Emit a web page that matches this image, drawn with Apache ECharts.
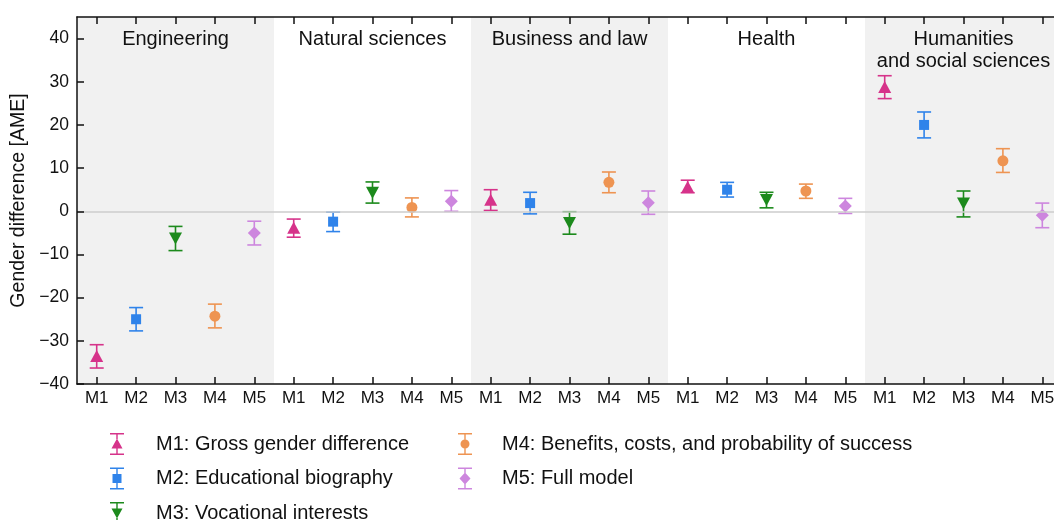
<!DOCTYPE html>
<html>
<head>
<meta charset="utf-8">
<script src="https://cdn.jsdelivr.net/npm/echarts@6/dist/echarts.min.js"></script>
<style>
  html, body { margin: 0; padding: 0; background: #fff; }
  #chart { width: 1054px; height: 520px; }
</style>
</head>
<body>
<div id="chart"></div>
<script>
// fields (groups along the x axis) and model labels
const fields = ["Engineering", "Natural sciences", "Business and law", "Health", "Humanities\nand social sciences"];
const models = ["M1", "M2", "M3", "M4", "M5"];
const modelNames = [
  "M1: Gross gender difference",
  "M2: Educational biography",
  "M3: Vocational interests",
  "M4: Benefits, costs, and probability of success",
  "M5: Full model",
];
// point estimates per model, one per field
const m1 = [-33.5, -3.8, 2.7, 5.7, 28.8];
const m2 = [-25.0, -2.4, 1.9, 5.0, 20.0];
const m3 = [-6.3, 4.3, -2.7, 2.6, 1.8];
const m4 = [-24.3, 0.9, 6.7, 4.7, 11.7];
const m5 = [-5.0, 2.3, 2.0, 1.2, -0.9];
// confidence interval lower bounds
const m1Low = [-36.3, -6.0, 0.2, 4.3, 26.1];
const m2Low = [-27.7, -4.7, -0.6, 3.3, 17.0];
const m3Low = [-9.1, 1.9, -5.3, 0.8, -1.3];
const m4Low = [-27.0, -1.3, 4.3, 3.0, 9.0];
const m5Low = [-7.8, 0.0, -0.7, -0.5, -3.8];
// confidence interval upper bounds
const m1High = [-30.9, -1.8, 5.0, 7.2, 31.4];
const m2High = [-22.3, -0.2, 4.4, 6.7, 23.0];
const m3High = [-3.5, 6.8, -0.1, 4.4, 4.7];
const m4High = [-21.5, 3.1, 9.1, 6.3, 14.5];
const m5High = [-2.3, 4.8, 4.7, 3.0, 1.9];
const yTicks = [-40, -30, -20, -10, 0, 10, 20, 30, 40];

const means = [m1, m2, m3, m4, m5];
const lows = [m1Low, m2Low, m3Low, m4Low, m5Low];
const highs = [m1High, m2High, m3High, m4High, m5High];
const colors = ["#d6338a", "#2f83ea", "#1c8a1c", "#ee9452", "#cd86de"];
const symbols = ["triangle", "rect", "triangle", "circle", "diamond"];
const symbolSizes = [[13, 12], [10, 10], [13, 12], [11, 11], [13, 13]];
const symbolRot = [0, 0, 180, 0, 0];

// legend icons: error bar + marker, 14x22 box
const bar = "M0,0L14,0L14,1.6L0,1.6ZM0,20.4L14,20.4L14,22L0,22Z";
const legendIcons = [
  "path://" + bar + "M6.3,1.6L7.7,1.6L7.7,6L6.3,6ZM6.3,15L7.7,15L7.7,20.4L6.3,20.4ZM7,5.5L12.5,15.5L1.5,15.5Z",
  "path://" + bar + "M6.3,1.6L7.7,1.6L7.7,6.5L6.3,6.5ZM6.3,15.5L7.7,15.5L7.7,20.4L6.3,20.4ZM2.5,6.5L11.5,6.5L11.5,15.5L2.5,15.5Z",
  "path://" + bar + "M6.3,1.6L7.7,1.6L7.7,7L6.3,7ZM6.3,16L7.7,16L7.7,20.4L6.3,20.4ZM1.5,6.5L12.5,6.5L7,16.5Z",
  "path://" + bar + "M6.3,1.6L7.7,1.6L7.7,7L6.3,7ZM6.3,15L7.7,15L7.7,20.4L6.3,20.4ZM2.5,11A4.5,4.5 0 1,1 11.5,11A4.5,4.5 0 1,1 2.5,11Z",
  "path://" + bar + "M6.3,1.6L7.7,1.6L7.7,6L6.3,6ZM6.3,16L7.7,16L7.7,20.4L6.3,20.4ZM7,5L12.5,11L7,17L1.5,11Z",
];

const catLabels = [];
fields.forEach(() => models.forEach((m) => catLabels.push(m)));

const bands = fields.map((f, i) => [
  {
    name: f,
    xAxis: i * 5 - 0.5,
    itemStyle: { color: i % 2 === 0 ? "#f1f1f1" : "rgba(255,255,255,0)" },
  },
  { xAxis: i * 5 + 4.5 },
]);

const series = [
  {
    type: "scatter",
    xAxisIndex: 1,
    data: [],
    z: -1,
    silent: true,
    markArea: {
      silent: true,
      label: {
        show: true,
        position: "insideTop",
        distance: 11,
        color: "#111",
        fontSize: 20,
        lineHeight: 22,
        fontFamily: "Liberation Sans, Arial, sans-serif",
      },
      data: bands,
    },
  },
  {
    type: "scatter",
    xAxisIndex: 1,
    data: [],
    z: 0,
    silent: true,
    markLine: {
      silent: true,
      symbol: "none",
      label: { show: false },
      lineStyle: { color: "#cdcdcd", width: 1.5, type: "solid" },
      data: [{ yAxis: 0 }],
    },
  },
];

means.forEach((vals, k) => {
  const pts = vals.map((v, i) => [i * 5 + k, v]);
  const bars = vals.map((v, i) => [i * 5 + k, lows[k][i], highs[k][i]]);
  series.push({
    name: modelNames[k],
    type: "custom",
    xAxisIndex: 1,
    z: 3,
    data: bars,
    renderItem: function (params, api) {
      const x = api.value(0);
      const lo = api.coord([x, api.value(1)]);
      const hi = api.coord([x, api.value(2)]);
      const w = 7;
      const style = { stroke: colors[k], lineWidth: 1.6 };
      return {
        type: "group",
        children: [
          { type: "line", shape: { x1: lo[0], y1: lo[1], x2: hi[0], y2: hi[1] }, style: style },
          { type: "line", shape: { x1: lo[0] - w, y1: lo[1], x2: lo[0] + w, y2: lo[1] }, style: style },
          { type: "line", shape: { x1: hi[0] - w, y1: hi[1], x2: hi[0] + w, y2: hi[1] }, style: style },
        ],
      };
    },
  });
  series.push({
    name: modelNames[k],
    type: "scatter",
    xAxisIndex: 1,
    z: 4,
    symbol: symbols[k],
    symbolSize: symbolSizes[k],
    symbolRotate: symbolRot[k],
    itemStyle: { color: colors[k], opacity: 1 },
    data: pts,
  });
});

const chart = echarts.init(document.getElementById("chart"));
const option = {
  animation: false,
  textStyle: { fontFamily: "Liberation Sans, Arial, sans-serif" },
  color: colors,
  grid: { left: 77, top: 17, right: -8, bottom: 136, containLabel: false, outerBoundsMode: "none" },
  legend: [
    {
      orient: "vertical",
      left: 105,
      top: 428,
      height: 120,
      itemWidth: 14,
      itemHeight: 22,
      itemGap: 12.5,
      selectedMode: false,
      textStyle: { fontSize: 20, color: "#111", padding: [0, 0, 0, 27] },
      data: [0, 1, 2].map((k) => ({ name: modelNames[k], icon: legendIcons[k], itemStyle: { color: colors[k] } })),
    },
    {
      orient: "vertical",
      left: 453,
      top: 428,
      height: 120,
      itemWidth: 14,
      itemHeight: 22,
      itemGap: 12.5,
      selectedMode: false,
      textStyle: { fontSize: 20, color: "#111", padding: [0, 0, 0, 25] },
      data: [3, 4].map((k) => ({ name: modelNames[k], icon: legendIcons[k], itemStyle: { color: colors[k] } })),
    },
  ],
  xAxis: [
    {
      type: "category",
      position: "bottom",
      z: 10,
      data: catLabels,
      axisLine: { show: true, onZero: false, lineStyle: { color: "#111", width: 1.5 } },
      axisTick: { show: true, inside: true, alignWithLabel: true, length: 7, lineStyle: { color: "#111", width: 1.5 } },
      axisLabel: { fontSize: 17, color: "#111", margin: 6, interval: 0 },
      splitLine: { show: false },
    },
    {
      type: "value",
      min: -0.5,
      max: 24.5,
      show: false,
    },
    {
      type: "category",
      position: "top",
      z: 10,
      data: catLabels,
      axisLine: { show: true, onZero: false, lineStyle: { color: "#111", width: 1.5 } },
      axisTick: { show: true, inside: true, alignWithLabel: true, length: 7, lineStyle: { color: "#111", width: 1.5 } },
      axisLabel: { show: false },
      splitLine: { show: false },
    },
  ],
  yAxis: {
    type: "value",
    z: 10,
    min: yTicks[0],
    max: 45,
    interval: 10,
    name: "Gender difference [AME]",
    nameLocation: "middle",
    nameGap: 48,
    nameTextStyle: { fontSize: 19.5, color: "#111" },
    axisLine: { show: true, onZero: false, lineStyle: { color: "#111", width: 1.5 } },
    axisTick: { show: true, inside: true, length: 7, lineStyle: { color: "#111", width: 1.5 } },
    axisLabel: { fontSize: 17.5, color: "#111", margin: 8, showMaxLabel: false, formatter: (v) => (yTicks.includes(v) ? String(v).replace("-", "\u2212") : "") },
    splitLine: { show: false },
  },
  series: series,
};
chart.setOption(option);
</script>
</body>
</html>
